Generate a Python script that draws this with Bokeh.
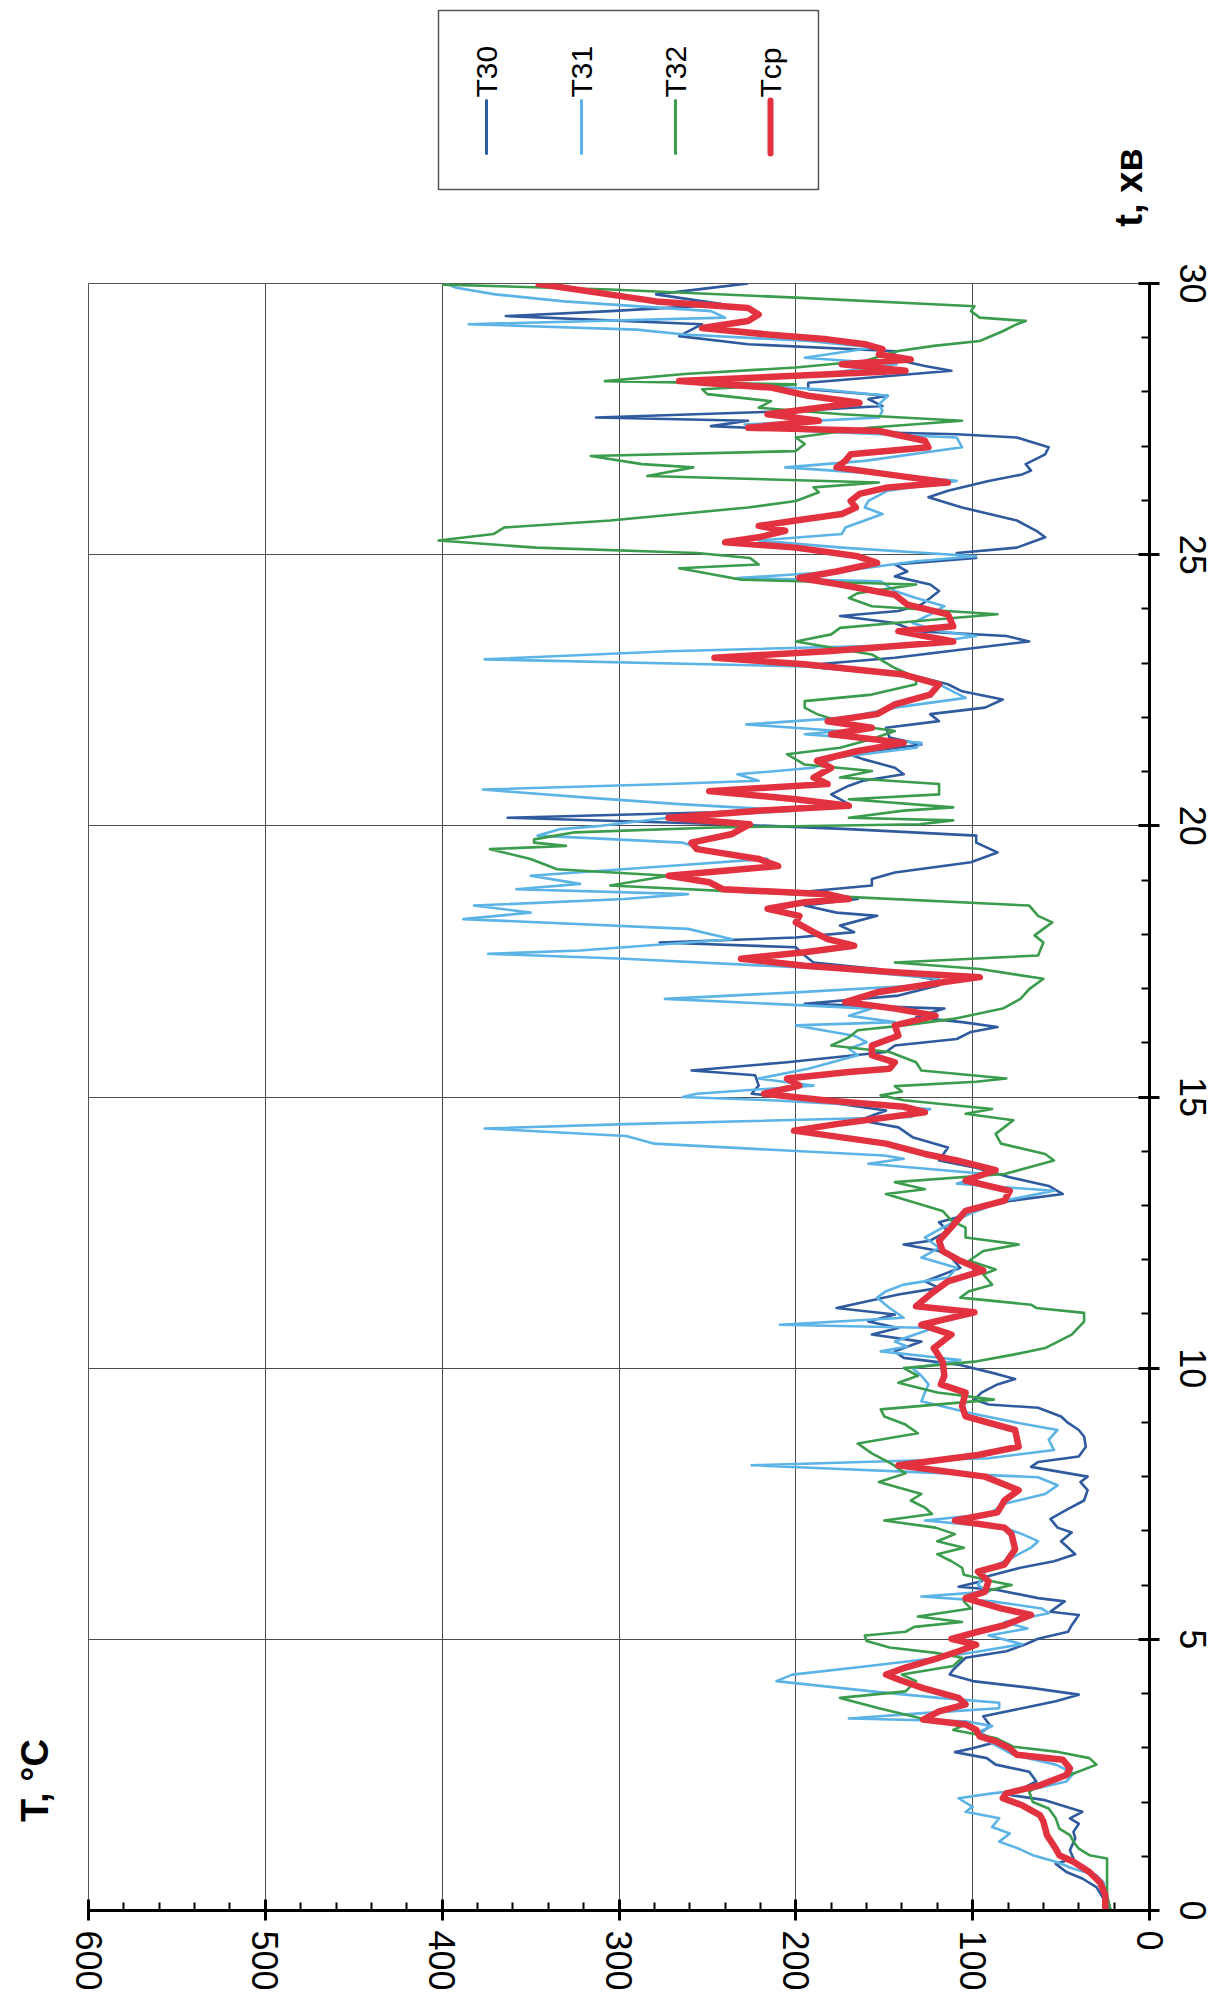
import math
from bokeh.plotting import figure
from bokeh.models import Range1d, FixedTicker
from bokeh.layouts import column, row
from bokeh.embed import file_html
from bokeh.resources import INLINE
from bokeh.core.properties import value

# ---- data: time t (min) and temperature T (°C) for each thermocouple ----
t30_t = [0, 0.43, 0.59, 0.71, 0.86, 0.96, 1.11, 1.33, 1.45, 1.6,
         1.7, 1.82, 2.04, 2.13, 2.38, 2.56, 2.69, 2.81, 2.92, 2.99,
         3.12, 3.27, 3.4, 3.58, 3.73, 3.86, 3.98, 4.1, 4.23, 4.35,
         4.44, 4.66, 4.78, 4.91, 5.01, 5.14, 5.26, 5.45, 5.51, 5.7,
         5.76, 5.91, 5.97, 6.07, 6.15, 6.32, 6.44, 6.57, 6.81, 6.97,
         7.06, 7.22, 7.37, 7.56, 7.75, 7.9, 8.0, 8.18, 8.27, 8.37,
         8.55, 8.74, 8.86, 8.99, 9.11, 9.27, 9.33, 9.42, 9.55, 9.7,
         9.8, 9.89, 10.06, 10.19, 10.31, 10.49, 10.62, 10.74, 10.86, 10.99,
         11.11, 11.2, 11.36, 11.48, 11.6, 11.85, 12.04, 12.16, 12.28, 12.35,
         12.53, 12.69, 12.78, 13.02, 13.21, 13.36, 13.52, 13.7, 13.83, 14.07,
         14.26, 14.44, 14.57, 14.75, 14.94, 15.06, 15.21, 15.4, 15.49, 15.64,
         15.83, 15.95, 16.07, 16.2, 16.29, 16.38, 16.47, 16.63, 16.72, 16.87,
         17.06, 17.18, 17.36, 17.48, 17.61, 17.76, 17.85, 17.94, 18.04, 18.16,
         18.34, 18.4, 18.53, 18.65, 18.77, 18.9, 19.02, 19.14, 19.33, 19.51,
         19.69, 19.82, 19.94, 20.03, 20.15, 20.25, 20.4, 20.58, 20.74, 20.83,
         20.95, 21.07, 21.23, 21.32, 21.5, 21.63, 21.81, 21.93, 22.06, 22.18,
         22.33, 22.48, 22.61, 22.76, 22.91, 22.98, 23.1, 23.25, 23.4, 23.5,
         23.59, 23.74, 23.87, 23.96, 24.08, 24.2, 24.33, 24.45, 24.6, 24.69,
         24.82, 24.94, 25.03, 25.13, 25.32, 25.44, 25.63, 25.87, 26.06, 26.18,
         26.36, 26.48, 26.55, 26.67, 26.85, 26.98, 27.16, 27.22, 27.28, 27.37,
         27.47, 27.53, 27.65, 27.74, 27.87, 27.93, 28.05, 28.17, 28.39, 28.48,
         28.63, 28.75, 28.88, 29.03, 29.25, 29.4, 29.49, 29.61, 29.8, 29.92,
         30.0]
t30_T = [22, 30, 38, 47, 53, 43, 45, 42, 43, 40,
         45, 38, 60, 79, 64, 68, 87, 92, 110, 100,
         85, 96, 90, 94, 72, 53, 40, 66, 100, 113,
         111, 104, 81, 70, 63, 46, 44, 40, 56, 48,
         63, 86, 108, 95, 93, 73, 54, 42, 50, 44,
         52, 56, 48, 37, 35, 39, 35, 67, 63, 40,
         36, 37, 40, 46, 50, 63, 91, 99, 95, 86,
         76, 86, 107, 139, 144, 129, 157, 142, 159, 144,
         177, 164, 142, 119, 127, 107, 112, 119, 139, 124,
         114, 119, 109, 94, 49, 57, 79, 99, 119, 114,
         134, 142, 164, 149, 190, 225, 221, 223, 259, 205,
         149, 144, 109, 101, 86, 106, 132, 116, 195, 142,
         119, 124, 154, 190, 195, 200, 277, 200, 167, 175,
         154, 177, 195, 165, 200, 157, 157, 144, 101, 86,
         98, 98, 170, 240, 363, 246, 170, 180, 170, 162,
         139, 144, 162, 170, 129, 147, 149, 119, 124, 93,
         83, 106, 114, 132, 185, 188, 144, 106, 68, 81,
         132, 144, 175, 142, 129, 124, 119, 124, 144, 137,
         144, 98, 109, 75, 59, 64, 75, 106, 125, 114,
         91, 72, 67, 70, 59, 57, 75, 109, 185, 248,
         227, 313, 200, 151, 159, 148, 193, 193, 112, 127,
         148, 143, 227, 266, 253, 364, 305, 240, 279, 248,
         227]

t31_t = [0, 0.52, 0.65, 0.77, 0.9, 1.02, 1.14, 1.27, 1.42, 1.54,
         1.7, 1.82, 1.91, 2.07, 2.16, 2.25, 2.38, 2.53, 2.69, 2.87,
         3.12, 3.3, 3.4, 3.49, 3.54, 3.64, 3.73, 3.83, 3.92, 4.04,
         4.23, 4.35, 4.48, 4.66, 4.78, 4.91, 5.07, 5.2, 5.32, 5.48,
         5.57, 5.7, 5.79, 5.88, 6.0, 6.25, 6.38, 6.5, 6.69, 6.81,
         6.94, 7.06, 7.19, 7.31, 7.5, 7.68, 7.84, 7.99, 8.21, 8.34,
         8.49, 8.68, 8.86, 8.99, 9.17, 9.39, 9.55, 9.7, 9.86, 10.0,
         10.15, 10.31, 10.4, 10.49, 10.74, 10.8, 10.93, 11.11, 11.3, 11.42,
         11.54, 11.67, 11.85, 12.04, 12.22, 12.41, 12.59, 12.84, 13.09, 13.27,
         13.4, 13.58, 13.77, 13.86, 13.92, 14.14, 14.28, 14.42, 14.5, 14.63,
         14.78, 14.94, 15.0, 15.06, 15.21, 15.34, 15.52, 15.77, 15.89, 16.01,
         16.13, 16.32, 16.38, 16.5, 16.63, 16.81, 16.93, 17.06, 17.18, 17.36,
         17.55, 17.64, 17.7, 17.91, 18.1, 18.28, 18.4, 18.53, 18.65, 18.74,
         18.83, 18.93, 19.08, 19.26, 19.39, 19.51, 19.69, 19.82, 19.94, 20.0,
         20.15, 20.28, 20.4, 20.52, 20.67, 20.77, 20.83, 20.95, 21.07, 21.26,
         21.44, 21.53, 21.69, 21.75, 21.87, 22.0, 22.18, 22.36, 22.61, 22.79,
         22.94, 23.07, 23.22, 23.34, 23.5, 23.59, 23.74, 23.9, 24.05, 24.2,
         24.33, 24.51, 24.57, 24.69, 24.88, 24.97, 25.13, 25.26, 25.38, 25.5,
         25.75, 25.87, 25.99, 26.18, 26.36, 26.48, 26.61, 26.73, 26.98, 27.16,
         27.28, 27.4, 27.53, 27.65, 27.77, 27.93, 28.05, 28.2, 28.33, 28.51,
         28.63, 28.82, 28.94, 29.06, 29.15, 29.25, 29.37, 29.49, 29.67, 29.8,
         29.92, 30.0]
t31_T = [22, 26, 30, 43, 53, 66, 74, 85, 79, 89,
         85, 104, 100, 108, 89, 64, 47, 43, 53, 77,
         91, 96, 89, 104, 170, 128, 85, 85, 119, 157,
         211, 202, 166, 119, 96, 72, 91, 69, 82, 57,
         61, 89, 129, 91, 97, 93, 86, 78, 67, 63,
         72, 82, 127, 91, 82, 59, 52, 63, 225, 91,
         54, 57, 52, 74, 101, 129, 127, 125, 129, 134,
         107, 152, 137, 144, 122, 209, 139, 147, 154, 149,
         139, 114, 109, 129, 119, 127, 117, 102, 82, 54,
         109, 92, 159, 139, 150, 280, 296, 376, 296, 135,
         124, 214, 264, 256, 190, 221, 193, 165, 170, 160,
         167, 200, 144, 170, 157, 274, 200, 129, 119, 180,
         297, 374, 322, 236, 261, 388, 350, 382, 297, 261,
         358, 322, 350, 272, 216, 246, 264, 346, 333, 310,
         272, 200, 266, 318, 377, 272, 221, 233, 190, 177,
         132, 129, 195, 175, 228, 170, 144, 104, 119, 144,
         195, 376, 272, 132, 98, 119, 134, 124, 116, 132,
         144, 152, 233, 175, 132, 98, 174, 221, 174, 172,
         151, 161, 159, 148, 109, 148, 206, 161, 106, 109,
         195, 229, 153, 151, 153, 148, 187, 266, 185, 143,
         195, 156, 193, 263, 290, 385, 240, 248, 331, 370,
         392, 398]

t32_t = [0, 0.28, 0.96, 1.02, 1.14, 1.27, 1.39, 1.51, 1.7, 1.88,
         2.0, 2.19, 2.35, 2.5, 2.69, 2.81, 2.93, 3.02, 3.18, 3.33,
         3.4, 3.55, 3.73, 3.92, 4.04, 4.23, 4.35, 4.51, 4.66, 4.75,
         4.85, 4.97, 5.07, 5.14, 5.23, 5.32, 5.42, 5.57, 5.7, 5.82,
         6.0, 6.07, 6.19, 6.32, 6.44, 6.57, 6.69, 6.81, 6.94, 7.06,
         7.19, 7.31, 7.43, 7.56, 7.68, 7.9, 8.06, 8.24, 8.43, 8.61,
         8.8, 8.96, 9.11, 9.24, 9.42, 9.55, 9.73, 9.86, 10.0, 10.12,
         10.25, 10.37, 10.62, 10.86, 11.02, 11.11, 11.17, 11.3, 11.42, 11.54,
         11.73, 11.82, 11.98, 12.16, 12.28, 12.41, 12.59, 12.72, 12.9, 13.21,
         13.3, 13.43, 13.58, 13.83, 13.95, 14.14, 14.32, 14.57, 14.69, 14.78,
         14.94, 15.03, 15.1, 15.2, 15.28, 15.34, 15.49, 15.64, 15.83, 15.95,
         16.1, 16.23, 16.32, 16.44, 16.63, 16.81, 16.99, 17.18, 17.36, 17.48,
         17.61, 17.85, 17.98, 18.22, 18.34, 18.53, 18.68, 18.9, 19.08, 19.2,
         19.39, 19.57, 19.63, 19.69, 19.75, 19.88, 19.97, 20.03, 20.1, 20.15,
         20.28, 20.34, 20.49, 20.58, 20.77, 20.89, 21.01, 21.13, 21.32, 21.44,
         21.6, 21.75, 21.87, 22.06, 22.18, 22.3, 22.42, 22.61, 22.73, 22.91,
         23.16, 23.4, 23.53, 23.65, 23.74, 23.9, 24.05, 24.2, 24.29, 24.45,
         24.54, 24.63, 24.75, 24.82, 24.94, 25.03, 25.13, 25.26, 25.38, 25.5,
         25.63, 25.75, 25.87, 25.99, 26.15, 26.24, 26.33, 26.45, 26.61, 26.67,
         26.82, 26.91, 27.04, 27.16, 27.34, 27.47, 27.59, 27.71, 27.83, 27.96,
         28.05, 28.14, 28.2, 28.33, 28.45, 28.57, 28.75, 28.85, 28.94, 29.12,
         29.25, 29.31, 29.37, 29.49, 29.58, 29.74, 29.89, 29.98]
t32_T = [22, 24, 24, 34, 40, 43, 45, 51, 53, 57,
         66, 68, 60, 45, 30, 34, 53, 77, 87, 111,
         106, 130, 153, 175, 138, 132, 140, 111, 106, 121,
         147, 160, 161, 138, 133, 106, 131, 101, 105, 101,
         78, 89, 105, 106, 112, 120, 105, 120, 110, 121,
         150, 123, 127, 135, 129, 153, 138, 146, 157, 165,
         131, 138, 150, 152, 88, 120, 142, 131, 139, 99,
         77, 59, 44, 37, 37, 64, 67, 107, 102, 89,
         94, 87, 102, 94, 74, 104, 104, 112, 117, 149,
         127, 144, 82, 54, 59, 84, 87, 77, 104, 89,
         139, 152, 140, 144, 98, 81, 129, 132, 147, 180,
         170, 165, 139, 111, 83, 73, 68, 60, 96, 144,
         63, 60, 65, 55, 63, 68, 165, 305, 272, 335,
         350, 373, 330, 348, 348, 325, 246, 130, 111, 170,
         139, 111, 170, 119, 119, 175, 157, 195, 205, 175,
         157, 144, 170, 188, 195, 195, 157, 132, 132, 144,
         157, 200, 180, 175, 144, 86, 157, 170, 165, 132,
         231, 246, 266, 221, 226, 256, 347, 402, 371, 365,
         305, 266, 227, 200, 187, 190, 153, 284, 258, 287,
         316, 200, 195, 200, 159, 106, 174, 221, 214, 250,
         253, 200, 308, 263, 200, 161, 143, 122, 96, 83,
         75, 70, 96, 101, 99, 200, 305, 400]

tcp_t = [0, 0.28, 0.52, 0.71, 0.9, 1.02, 1.14, 1.39, 1.64, 1.76,
         1.94, 2.07, 2.16, 2.31, 2.5, 2.62, 2.78, 2.87, 2.99, 3.12,
         3.21, 3.33, 3.43, 3.52, 3.67, 3.8, 3.92, 4.1, 4.26, 4.35,
         4.48, 4.66, 4.78, 4.9, 5.01, 5.14, 5.26, 5.45, 5.57, 5.76,
         5.88, 6.07, 6.25, 6.38, 6.66, 6.94, 7.06, 7.19, 7.34, 7.56,
         7.75, 8.0, 8.21, 8.4, 8.55, 8.86, 9.11, 9.3, 9.55, 9.7,
         9.86, 10.12, 10.37, 10.62, 10.8, 11.03, 11.14, 11.36, 11.6, 11.8,
         11.98, 12.16, 12.35, 12.6, 12.9, 13.09, 13.27, 13.46, 13.65, 13.83,
         13.95, 14.14, 14.38, 14.5, 14.72, 14.82, 14.94, 15.06, 15.21, 15.34,
         15.46, 15.52, 15.64, 15.77, 15.95, 16.13, 16.32, 16.5, 16.63, 16.75,
         16.93, 17.12, 17.21, 17.3, 17.42, 17.55, 17.67, 17.79, 17.91, 18.04,
         18.22, 18.34, 18.47, 18.59, 18.65, 18.74, 18.83, 18.96, 19.08, 19.26,
         19.39, 19.57, 19.69, 19.85, 20.03, 20.15, 20.28, 20.37, 20.49, 20.64,
         20.77, 20.89, 21.07, 21.2, 21.38, 21.53, 21.69, 21.81, 21.93, 22.06,
         22.24, 22.42, 22.61, 22.79, 22.98, 23.1, 23.22, 23.4, 23.59, 23.68,
         23.9, 24.08, 24.26, 24.45, 24.57, 24.69, 24.85, 24.97, 25.13, 25.23,
         25.32, 25.44, 25.53, 25.63, 25.75, 25.87, 25.99, 26.12, 26.24, 26.33,
         26.48, 26.61, 26.73, 26.85, 26.98, 27.1, 27.28, 27.34, 27.47, 27.59,
         27.71, 27.8, 27.93, 28.08, 28.2, 28.39, 28.51, 28.6, 28.69, 28.79,
         28.88, 28.97, 29.06, 29.18, 29.31, 29.43, 29.55, 29.67, 29.86, 30.0]
tcp_T = [25, 25, 28, 34, 43, 51, 53, 58, 60, 62,
         72, 83, 81, 62, 47, 45, 49, 75, 79, 87,
         96, 98, 104, 128, 119, 104, 108, 128, 142, 149,
         138, 119, 108, 98, 112, 97, 82, 67, 84, 104,
         93, 91, 97, 82, 76, 78, 82, 110, 86, 82,
         74, 93, 142, 97, 74, 76, 104, 106, 104, 118,
         116, 117, 122, 112, 129, 99, 132, 124, 114, 94,
         107, 117, 119, 112, 104, 82, 79, 104, 87, 109,
         127, 149, 201, 177, 127, 139, 184, 218, 198, 205,
         170, 147, 144, 157, 157, 142, 144, 121, 144, 172,
         154, 116, 96, 144, 195, 231, 195, 167, 182, 190,
         200, 198, 216, 195, 170, 182, 241, 249, 272, 210,
         221, 256, 259, 236, 226, 272, 221, 170, 200, 249,
         182, 190, 180, 188, 165, 139, 180, 157, 182, 154,
         144, 124, 119, 139, 195, 246, 182, 111, 142, 111,
         114, 137, 144, 175, 198, 177, 154, 165, 200, 240,
         221, 206, 221, 200, 174, 166, 169, 164, 148, 114,
         148, 177, 172, 169, 125, 127, 153, 227, 187, 216,
         187, 164, 193, 214, 266, 138, 174, 135, 153, 151,
         161, 182, 216, 253, 227, 221, 227, 279, 318, 347]

series_names = ["T30", "T31", "T32", "Tср"]
series_colors = ["#2f5b9e", "#5cb3e6", "#3a9c4c", "#e3323f"]
series_widths = [2.6, 2.6, 2.6, 6.5]

T_ticks = [0, 100, 200, 300, 400, 500, 600]
t_ticks = [0, 5, 10, 15, 20, 25, 30]

FONT = "Liberation Sans"
W = 1219
TOP_H = 243           # strip holding the legend and the time-axis title
LEFT_W = 58           # strip holding the temperature-axis title
MAIN_H = 2008 - TOP_H
MAIN_W = W - LEFT_W


def blank_strip(width, height):
    """A bare figure whose data units are its own pixels (y grows downward)."""
    f = figure(width=width, height=height,
               x_range=Range1d(0, width), y_range=Range1d(height, 0),
               x_axis_location=None, y_axis_location=None,
               output_backend="svg", toolbar_location=None,
               min_border=0, frame_align=False)
    f.grid.visible = False
    f.outline_line_color = None
    f.background_fill_color = "white"
    f.border_fill_color = "white"
    return f


# ---- main plot: temperature runs right-to-left along the bottom, time runs up the right side ----
main = figure(width=MAIN_W, height=MAIN_H,
              x_range=Range1d(600, 0), y_range=Range1d(0, 30),
              x_axis_location="below", y_axis_location="right",
              output_backend="svg", toolbar_location=None,
              min_border_left=30, min_border_right=70,
              min_border_top=40, min_border_bottom=98,
              frame_align=False)
main.background_fill_color = "white"
main.border_fill_color = "white"
main.outline_line_color = "#555555"
main.outline_line_width = 1

for axis, ticks, minor, standoff in ((main.xaxis[0], T_ticks, list(range(0, 601, 20)), 10),
                                     (main.yaxis[0], t_ticks, list(range(0, 31)), 20)):
    axis.ticker = FixedTicker(ticks=ticks, minor_ticks=minor)
    axis.axis_line_color = "black"
    axis.axis_line_width = 3
    axis.major_tick_line_color = "black"
    axis.major_tick_line_width = 3
    axis.major_tick_in = 11
    axis.major_tick_out = 10
    axis.minor_tick_line_color = "black"
    axis.minor_tick_line_width = 2
    axis.minor_tick_in = 8
    axis.minor_tick_out = 0
    axis.major_label_orientation = "vertical"
    axis.major_label_text_font = FONT
    axis.major_label_text_font_size = "36px"
    axis.major_label_text_color = "black"
    axis.major_label_standoff = standoff

main.xgrid.ticker = FixedTicker(ticks=T_ticks)
main.ygrid.ticker = FixedTicker(ticks=t_ticks)
for g in (main.xgrid[0], main.ygrid[0]):
    g.grid_line_color = "#4d4d4d"
    g.grid_line_width = 1

series = [(t30_T, t30_t), (t31_T, t31_t), (t32_T, t32_t), (tcp_T, tcp_t)]
for (Tv, tv), color, lw in zip(series, series_colors, series_widths):
    main.line(x=Tv, y=tv, line_color=color, line_width=lw, line_join="round")

# ---- upper strip: legend box and time-axis title ----
top = blank_strip(W, TOP_H)
top.quad(left=[438], right=[818], top=[10], bottom=[189],
         fill_color="white", line_color="#555555", line_width=1.5)
key_x = [486, 581, 675, 770]
top.segment(x0=key_x, y0=[100] * 4, x1=key_x, y1=[153] * 4,
            line_color=series_colors, line_width=[3, 3, 3, 6], line_cap="round")
top.text(x=key_x, y=[97] * 4, text=series_names, angle=math.pi / 2,
         text_align="left", text_baseline="middle",
         text_font=value(FONT), text_font_size="30px", text_color="black")
top.text(x=[1128], y=[187], text=["t, хв"], angle=math.pi / 2,
         text_align="center", text_baseline="middle",
         text_font=value(FONT), text_font_style="bold",
         text_font_size="38px", text_color="black")

# ---- left strip: temperature-axis title ----
left = blank_strip(LEFT_W, MAIN_H)
left.text(x=[34], y=[1780 - TOP_H], text=["T, °C"], angle=math.pi / 2,
          text_align="center", text_baseline="middle",
          text_font=value(FONT), text_font_style="bold",
          text_font_size="38px", text_color="black")

layout = column(top, row(left, main, spacing=0), spacing=0)
open("out.html", "w").write(file_html(layout, INLINE))
